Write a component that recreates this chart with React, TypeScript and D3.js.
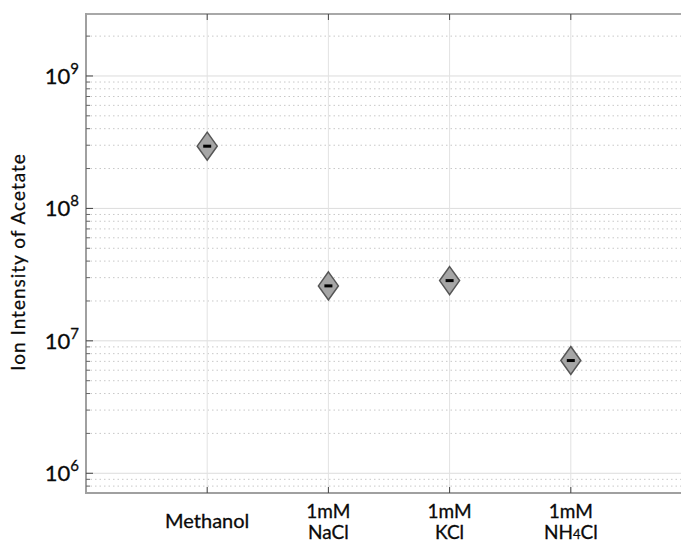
import React from 'react';
import * as d3 from 'd3';

const categories = ['Methanol', '1mM|NaCl', '1mM|KCl', '1mM|NH4Cl'];
const intensities = [2.95e8, 2.6e7, 2.85e7, 7.1e6];
const decades = [6, 7, 8, 9];

export default function App() {
  const width = 681;
  const height = 546;
  const left = 86, top = 14, bottom = 493, right = 692;

  const x = d3.scaleLinear().domain([0, categories.length + 1]).range([left, right]);
  const y = d3.scaleLog().domain([Math.pow(10, 5.851), Math.pow(10, 9.468)]).range([bottom, top]);

  const minors: number[] = [];
  for (let e = 5; e <= 9; e++) {
    for (let m = 2; m <= 9; m++) {
      const v = m * Math.pow(10, e);
      if (v > y.domain()[0] && v < y.domain()[1]) minors.push(v);
    }
  }
  const majors = decades.map(d => Math.pow(10, d));
  const font = 'Lato, "Open Sans", sans-serif';
  const ink = '#0a0a0a';

  return (
    <div style={{ position: 'fixed', left: 0, top: 0 }}>
      <svg width={width} height={height} style={{ display: 'block', background: '#fff' }}>
        {/* minor grid */}
        {minors.map((v, i) => (
          <line key={'mg' + i} x1={left} x2={right} y1={y(v)} y2={y(v)}
            stroke="#c8c8c8" strokeWidth={1} strokeDasharray="1.5,3" />
        ))}
        {/* major grid */}
        {majors.map((v, i) => (
          <line key={'Mg' + i} x1={left} x2={right} y1={y(v)} y2={y(v)} stroke="#dcdcdc" strokeWidth={1} />
        ))}
        {/* vertical grid */}
        {categories.map((c, i) => (
          <line key={'vg' + i} x1={x(i + 1)} x2={x(i + 1)} y1={top} y2={bottom} stroke="#e2e2e2" strokeWidth={1} />
        ))}
        {/* frame */}
        <line x1={left} x2={right} y1={top} y2={top} stroke="#a8a8a8" strokeWidth={2} />
        <line x1={left} x2={left} y1={top - 1} y2={bottom + 1} stroke="#a0a0a0" strokeWidth={2} />
        <line x1={left - 1} x2={right} y1={bottom} y2={bottom} stroke="#a0a0a0" strokeWidth={2} />
        {/* y ticks */}
        {minors.map((v, i) => (
          <line key={'mt' + i} x1={left} x2={left + 4} y1={y(v)} y2={y(v)} stroke="#666" strokeWidth={1} />
        ))}
        {majors.map((v, i) => (
          <line key={'Mt' + i} x1={left} x2={left + 7} y1={y(v)} y2={y(v)} stroke="#444" strokeWidth={1} />
        ))}
        {/* x ticks */}
        {categories.map((c, i) => (
          <g key={'xt' + i}>
            <line x1={x(i + 1)} x2={x(i + 1)} y1={bottom} y2={bottom - 6} stroke="#444" strokeWidth={1} />
            <line x1={x(i + 1)} x2={x(i + 1)} y1={top} y2={top + 6} stroke="#444" strokeWidth={1} />
          </g>
        ))}
        {/* y tick labels */}
        {decades.map(d => (
          <text key={'yl' + d} x={79} y={y(Math.pow(10, d)) + 8} textAnchor="end"
            fontFamily={font} fill={ink} stroke={ink} strokeWidth={0.3}>
            <tspan fontSize={22}>10</tspan>
            <tspan fontSize={15} dy={-10}>{d}</tspan>
          </text>
        ))}
        {/* x labels */}
        {categories.map((c, i) => {
          const lines = c.split('|');
          const cx = x(i + 1);
          const common = { textAnchor: 'middle' as const, fontFamily: font, fontSize: 19, fill: ink, stroke: ink, strokeWidth: 0.3 };
          if (lines.length === 1) {
            return <text key={'xl' + i} x={cx} y={528} {...common} fontSize={20}>{c}</text>;
          }
          const second = lines[1];
          const m = second.match(/^(\D+)(\d)(\D+)$/);
          return (
            <g key={'xl' + i}>
              <text x={cx} y={518} {...common}>{lines[0]}</text>
              <text x={cx} y={539} {...common}>
                {m ? (<>{m[1]}<tspan fontSize={13}>{m[2]}</tspan>{m[3]}</>) : second}
              </text>
            </g>
          );
        })}
        {/* y axis title */}
        <text transform={`translate(25,${262}) rotate(-90)`} textAnchor="middle"
          fontFamily={font} fontSize={19} letterSpacing={1} fill={ink} stroke={ink} strokeWidth={0.25}>
          Ion Intensity of Acetate
        </text>
        {/* markers */}
        {intensities.map((v, i) => {
          const cx = x(i + 1), cy = y(v);
          const hw = 10, hh = 14;
          return (
            <g key={'pt' + i}>
              <path d={`M${cx},${cy - hh}L${cx + hw},${cy}L${cx},${cy + hh}L${cx - hw},${cy}Z`}
                fill="#a6a6a6" stroke="#555" strokeWidth={1.5} />
              <rect x={cx - 4} y={cy - 1.5} width={8} height={3} fill="#000" />
            </g>
          );
        })}
      </svg>
    </div>
  );
}
